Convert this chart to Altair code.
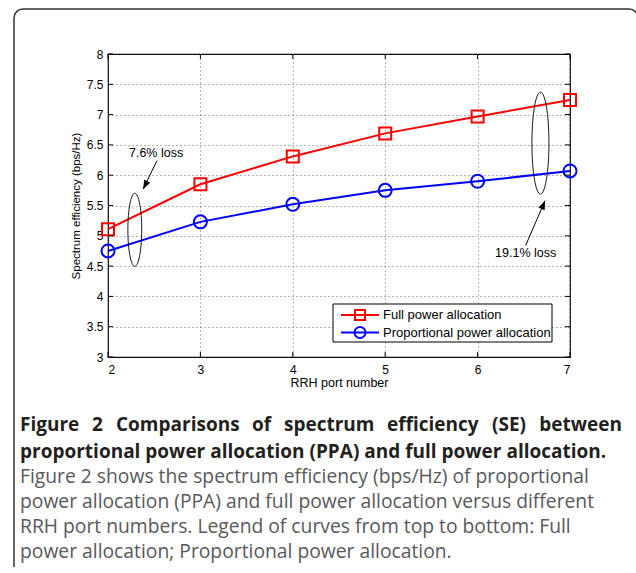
import altair as alt
import pandas as pd

# ---------------- data ----------------
ports = [2, 3, 4, 5, 6, 7]
full_power = [5.11, 5.85, 6.31, 6.69, 6.97, 7.24]
prop_power = [4.75, 5.23, 5.52, 5.75, 5.90, 6.07]
series_names = ["Full power allocation", "Proportional power allocation"]

x_ticks = [2, 3, 4, 5, 6, 7]
y_ticks = [3, 3.5, 4, 4.5, 5, 5.5, 6, 6.5, 7, 7.5, 8]

# annotations (data coordinates)
loss_labels = ["7.6% loss", "19.1% loss"]
loss_label_x = [2.52, 6.52]
loss_label_y = [6.37, 4.71]
arrow_x = [2.53, 6.52]
arrow_y = [6.24, 4.84]
arrow_tip_x = [2.38, 6.73]
arrow_tip_y = [5.77, 5.58]
ellipse_x = [2.29, 6.68]
ellipse_y = [5.10, 6.53]

caption_title_words = ["Figure", "2", "Comparisons", "of", "spectrum", "efficiency", "(SE)", "between"]
caption_bold_2 = "proportional power allocation (PPA) and full power allocation."
caption_regular = [
    "Figure 2 shows the spectrum efficiency (bps/Hz) of proportional",
    "power allocation (PPA) and full power allocation versus different",
    "RRH port numbers. Legend of curves from top to bottom: Full",
    "power allocation; Proportional power allocation.",
]

# ---------------- layout ----------------
W, H = 462, 303
PAD_L, PAD_T = 108, 54
TOTAL_W, TOTAL_H = 636, 567
FONT = "Liberation Sans"
RED = "#ff0000"
BLUE = "#0000ff"

df = pd.DataFrame({
    "port": ports * 2,
    "se": full_power + prop_power,
    "series": [series_names[0]] * len(ports) + [series_names[1]] * len(ports),
})
df_full = df[df.series == series_names[0]]
df_prop = df[df.series == series_names[1]]

xscale = alt.Scale(domain=[2, 7], nice=False, zero=False)
yscale = alt.Scale(domain=[3, 8], nice=False, zero=False)

xaxis = alt.Axis(values=x_ticks, tickSize=0, domain=False, grid=True,
                 gridDash=[1, 3], gridColor="#444", gridWidth=0.8,
                 labelFont=FONT, labelFontSize=12, labelColor="#000",
                 labelPadding=7, labelOverlap=False, title="RRH port number", titleFont=FONT,
                 titleFontSize=12.5, titleFontWeight="normal", titleColor="#000",
                 titlePadding=1, format="d")
yaxis = alt.Axis(values=y_ticks, tickSize=0, domain=False, grid=True,
                 gridDash=[1, 3], gridColor="#444", gridWidth=0.8,
                 labelFont=FONT, labelFontSize=12, labelColor="#000",
                 labelPadding=5, labelOverlap=False, format="~g",
                 title="Spectrum efficiency (bps/Hz)",
                 titleFont=FONT, titleFontSize=11.5, titleFontWeight="normal",
                 titleColor="#000", titlePadding=5, labelFlush=False)


def X(f):
    return alt.X(f, scale=xscale, axis=xaxis)


def Y(f):
    return alt.Y(f, scale=yscale, axis=yaxis)


line_full = alt.Chart(df_full).mark_line(color=RED, strokeWidth=2).encode(
    x=X("port:Q"), y=Y("se:Q"))
pts_full = alt.Chart(df_full).mark_point(shape="square", size=144, color=RED, strokeWidth=2,
                                         filled=False, opacity=1).encode(
    x=X("port:Q"), y=Y("se:Q"))
line_prop = alt.Chart(df_prop).mark_line(color=BLUE, strokeWidth=2).encode(
    x=X("port:Q"), y=Y("se:Q"))
pts_prop = alt.Chart(df_prop).mark_point(shape="circle", size=169, color=BLUE, strokeWidth=2,
                                         filled=False, opacity=1).encode(
    x=X("port:Q"), y=Y("se:Q"))

ann = pd.DataFrame({
    "label": loss_labels, "lx": loss_label_x, "ly": loss_label_y,
    "ax": arrow_x, "ay": arrow_y, "tx": arrow_tip_x, "ty": arrow_tip_y,
    "ex": ellipse_x, "ey": ellipse_y,
})

loss_text = alt.Chart(ann).mark_text(font=FONT, fontSize=12.5, color="#000",
                                     baseline="middle", align="center").encode(
    x=X("lx:Q"), y=Y("ly:Q"), text="label:N")
arrow_shaft = alt.Chart(ann).mark_rule(color="#000", strokeWidth=1).encode(
    x=X("ax:Q"), y=Y("ay:Q"), x2="tx:Q", y2="ty:Q")
HEAD = "M0,0L0.75,2L-0.75,2Z"
arrow_head_l = alt.Chart(ann.iloc[[0]]).mark_point(
    shape=HEAD, size=81, filled=True, color="#000", opacity=1,
    angle=207).encode(x=X("tx:Q"), y=Y("ty:Q"))
arrow_head_r = alt.Chart(ann.iloc[[1]]).mark_point(
    shape=HEAD, size=81, filled=True, color="#000", opacity=1,
    angle=23).encode(x=X("tx:Q"), y=Y("ty:Q"))
ell_l = alt.Chart(ann.iloc[[0]]).mark_point(
    shape="M0,-1A0.19,1,0,1,1,0,1A0.19,1,0,1,1,0,-1Z", size=73 * 73, filled=False,
    color="#000", strokeWidth=0.9, opacity=1).encode(x=X("ex:Q"), y=Y("ey:Q"))
ell_r = alt.Chart(ann.iloc[[1]]).mark_point(
    shape="M0,-1A0.167,1,0,1,1,0,1A0.167,1,0,1,1,0,-1Z", size=102 * 102, filled=False,
    color="#000", strokeWidth=0.9, opacity=1).encode(x=X("ex:Q"), y=Y("ey:Q"))

# inward ticks on all four sides
dxt = pd.DataFrame({"v": x_ticks})
dyt = pd.DataFrame({"v": y_ticks})
TL = 5
tick_b = alt.Chart(dxt).mark_rule(color="#000", strokeWidth=1).encode(
    x=X("v:Q"), y=alt.value(H), y2=alt.value(H - TL))
tick_t = alt.Chart(dxt).mark_rule(color="#000", strokeWidth=1).encode(
    x=X("v:Q"), y=alt.value(0), y2=alt.value(TL))
tick_l = alt.Chart(dyt).mark_rule(color="#000", strokeWidth=1).encode(
    y=Y("v:Q"), x=alt.value(0), x2=alt.value(TL))
tick_r = alt.Chart(dyt).mark_rule(color="#000", strokeWidth=1).encode(
    y=Y("v:Q"), x=alt.value(W), x2=alt.value(W - TL))

# legend (MATLAB style box)
one = alt.Data(values=[{}])
LX0, LX1, LY0, LY1 = 225, 444, 250, 288
ROW = [261, 278.5]
leg_box = alt.Chart(one).mark_rect(fill="#fff", stroke="#000", strokeWidth=1).encode(
    x=alt.value(LX0), x2=alt.value(LX1), y=alt.value(LY0), y2=alt.value(LY1))
leg_layers = [leg_box]
for i, (col, shp, sz) in enumerate([(RED, "square", 100), (BLUE, "circle", 121)]):
    leg_layers.append(alt.Chart(one).mark_rule(color=col, strokeWidth=2).encode(
        x=alt.value(233), x2=alt.value(271), y=alt.value(ROW[i])))
    leg_layers.append(alt.Chart(one).mark_point(shape=shp, size=sz, color=col, filled=False,
                                                strokeWidth=2, opacity=1).encode(
        x=alt.value(252), y=alt.value(ROW[i])))
    leg_layers.append(alt.Chart(one).mark_text(text=series_names[i], font=FONT, fontSize=13,
                                               color="#000", align="left",
                                               baseline="middle").encode(
        x=alt.value(275), y=alt.value(ROW[i])))

# caption
cap_layers = []
cap_y = [425, 451.5, 477, 502, 527, 552]
BOLD = dict(font="Open Sans", fontSize=19, fontWeight="bold", color="#231f20",
            baseline="middle")
# first title line is justified in the original: place words individually
word_x = [20, 92, 116, 252, 284, 387, 492]
for w, wx in zip(caption_title_words[:-1], word_x):
    cap_layers.append(alt.Chart(one).mark_text(text=w, align="left", **BOLD).encode(
        x=alt.value(wx - PAD_L), y=alt.value(cap_y[0] - PAD_T)))
cap_layers.append(alt.Chart(one).mark_text(text=caption_title_words[-1], align="right",
                                           **BOLD).encode(
    x=alt.value(622 - PAD_L), y=alt.value(cap_y[0] - PAD_T)))
cap_layers.append(alt.Chart(one).mark_text(text=caption_bold_2, align="left", **BOLD).encode(
    x=alt.value(20 - PAD_L), y=alt.value(cap_y[1] - PAD_T)))
for i, t in enumerate(caption_regular):
    cap_layers.append(alt.Chart(one).mark_text(text=t, font="Open Sans", fontSize=19.3,
                                               color="#58595b", align="left",
                                               baseline="middle").encode(
        x=alt.value(20 - PAD_L), y=alt.value(cap_y[i + 2] - PAD_T)))

frame = alt.Chart(one).mark_rect(fill="transparent", stroke="#333", strokeWidth=1.5,
                                 cornerRadius=9).encode(
    x=alt.value(14 - PAD_L), x2=alt.value(638 - PAD_L),
    y=alt.value(9 - PAD_T), y2=alt.value(620 - PAD_T))

chart = alt.layer(
    line_full, line_prop, pts_full, pts_prop,
    ell_l, ell_r, arrow_shaft, arrow_head_l, arrow_head_r, loss_text,
    tick_b, tick_t, tick_l, tick_r,
    *leg_layers, *cap_layers, frame,
).properties(
    width=W, height=H,
    autosize=alt.AutoSizeParams(type="none"),
    padding={"left": PAD_L, "top": PAD_T, "right": TOTAL_W - PAD_L - W,
             "bottom": TOTAL_H - PAD_T - H},
    background="#ffffff",
).configure_view(stroke="#000", strokeWidth=1.2)

chart.save("out.html", embed_options={"renderer": "svg", "actions": False})
